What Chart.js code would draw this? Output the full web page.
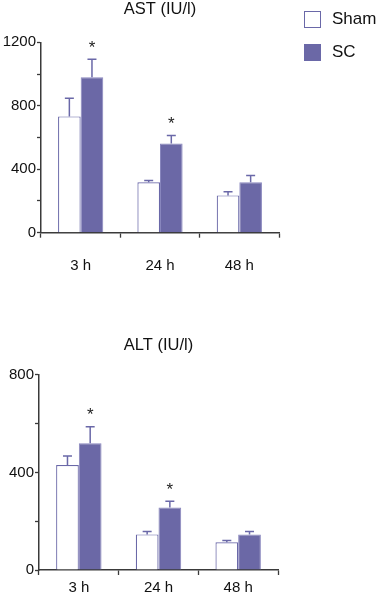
<!DOCTYPE html>
<html lang="en">
<head>
    <meta charset="UTF-8">
    <title>AST / ALT</title>
    <script src="https://cdn.jsdelivr.net/npm/chart.js"></script>
    <style>
        body { margin: 0; background: #fff; font-family: "Liberation Sans", Arial, sans-serif; }
        #wrap { position: relative; width: 376px; height: 597px; overflow: hidden; }
        #c1 { position: absolute; left: 0; top: 0; }
        #c2 { position: absolute; left: 0; top: 300px; }
        .leg { position: absolute; left: 304px; font-size: 17px; color: #111; }
        .leg span.box { position: absolute; left: 0; width: 15px; height: 15px; border: 1px solid #6a68a8; }
        .leg span.txt { position: absolute; left: 28px; top: -2px; white-space: nowrap; }
    </style>
</head>
<body>
<div id="wrap">
    <canvas id="c1" width="376" height="300"></canvas>
    <canvas id="c2" width="376" height="297"></canvas>
    <div class="leg" style="top:11px"><span class="box" style="background:#fff"></span><span class="txt">Sham</span></div>
    <div class="leg" style="top:44px"><span class="box" style="background:#6b68a6"></span><span class="txt">SC</span></div>
</div>

<script>
    const categories = ['3 h', '24 h', '48 h'];

    // AST (IU/l)
    const astSham = [733, 318, 235];
    const astShamErr = [115, 11, 23];
    const astSC = [980, 562, 318];
    const astSCErr = [113, 50, 43];
    const astSig = [true, true, false];

    // ALT (IU/l)
    const altSham = [430, 146, 114];
    const altShamErr = [37, 12, 7];
    const altSC = [519, 256, 146];
    const altSCErr = [68, 26, 12];
    const altSig = [true, true, false];

    const lineColor = '#6a68a8';
    const axisColor = '#3a3a3a';
    const family = '"Liberation Sans", Arial, sans-serif';
    const font = { family: family, size: 15 };

    // error bars (upper only) + significance stars
    const errorBars = {
        id: 'errorBars',
        afterDatasetsDraw(chart) {
            const ctx = chart.ctx;
            const y = chart.scales.y;
            ctx.save();
            chart.data.datasets.forEach((ds, i) => {
                const meta = chart.getDatasetMeta(i);
                meta.data.forEach((bar, j) => {
                    const top = y.getPixelForValue(ds.data[j] + ds.err[j]);
                    ctx.strokeStyle = lineColor;
                    ctx.lineWidth = 1.5;
                    ctx.beginPath();
                    ctx.moveTo(bar.x, bar.y);
                    ctx.lineTo(bar.x, top);
                    ctx.moveTo(bar.x - 4.5, top);
                    ctx.lineTo(bar.x + 4.5, top);
                    ctx.stroke();
                    if (ds.sig && ds.sig[j]) {
                        ctx.fillStyle = '#222';
                        ctx.font = '17px ' + family;
                        ctx.textAlign = 'center';
                        ctx.textBaseline = 'middle';
                        ctx.fillText('*', bar.x, top - 11);
                    }
                });
            });
            ctx.restore();
        }
    };

    function makeChart(id, title, sham, shamErr, sc, scErr, sig, opts) {
        const ctx = document.getElementById(id).getContext('2d');
        return new Chart(ctx, {
            type: 'bar',
            data: {
                labels: categories,
                datasets: [
                    {
                        label: 'Sham',
                        data: sham,
                        err: shamErr,
                        backgroundColor: '#ffffff',
                        borderColor: lineColor,
                        borderWidth: 1.2,
                        categoryPercentage: 0.57,
                        barPercentage: 1.0
                    },
                    {
                        label: 'SC',
                        data: sc,
                        err: scErr,
                        sig: sig,
                        backgroundColor: '#6b68a6',
                        borderColor: '#8886bd',
                        borderWidth: 1,
                        categoryPercentage: 0.57,
                        barPercentage: 1.0
                    }
                ]
            },
            options: {
                responsive: false,
                animation: false,
                layout: { padding: { left: 0, right: opts.right, top: 0, bottom: 0 } },
                plugins: {
                    legend: { display: false },
                    tooltip: { enabled: false },
                    title: {
                        display: true,
                        text: title,
                        fullSize: false,
                        color: '#111',
                        font: { family: family, size: 16.5, weight: 'normal' },
                        padding: { top: opts.titleTop, bottom: opts.titleBottom }
                    }
                },
                scales: {
                    x: {
                        afterFit(scale) { scale.height = opts.xHeight; },
                        grid: {
                            offset: true,
                            drawOnChartArea: false,
                            tickLength: 5,
                            tickColor: axisColor,
                            tickWidth: 1.3
                        },
                        border: { color: axisColor, width: 1.5 },
                        ticks: { color: '#111', font: font, padding: opts.xPad, maxRotation: 0 }
                    },
                    y: {
                        min: 0,
                        max: opts.max,
                        afterFit(scale) { scale.width = opts.left; },
                        grid: {
                            drawOnChartArea: false,
                            tickLength: 4,
                            tickColor: axisColor,
                            tickWidth: 1.3
                        },
                        border: { color: axisColor, width: 1.5 },
                        ticks: {
                            stepSize: 200,
                            color: '#111',
                            font: font,
                            padding: 1,
                            callback: v => (v % 400 === 0 ? v : '')
                        }
                    }
                }
            },
            plugins: [errorBars]
        });
    }

    makeChart('c1', 'AST (IU/l)', astSham, astShamErr, astSC, astSCErr, astSig,
        { max: 1200, left: 41, right: 97, xHeight: 67.3, titleTop: 0, titleBottom: 22.5, xPad: 19 });
    makeChart('c2', 'ALT (IU/l)', altSham, altShamErr, altSC, altSCErr, altSig,
        { max: 800, left: 39, right: 98, xHeight: 27, titleTop: 36, titleBottom: 19, xPad: 4 });
</script>
</body>
</html>
